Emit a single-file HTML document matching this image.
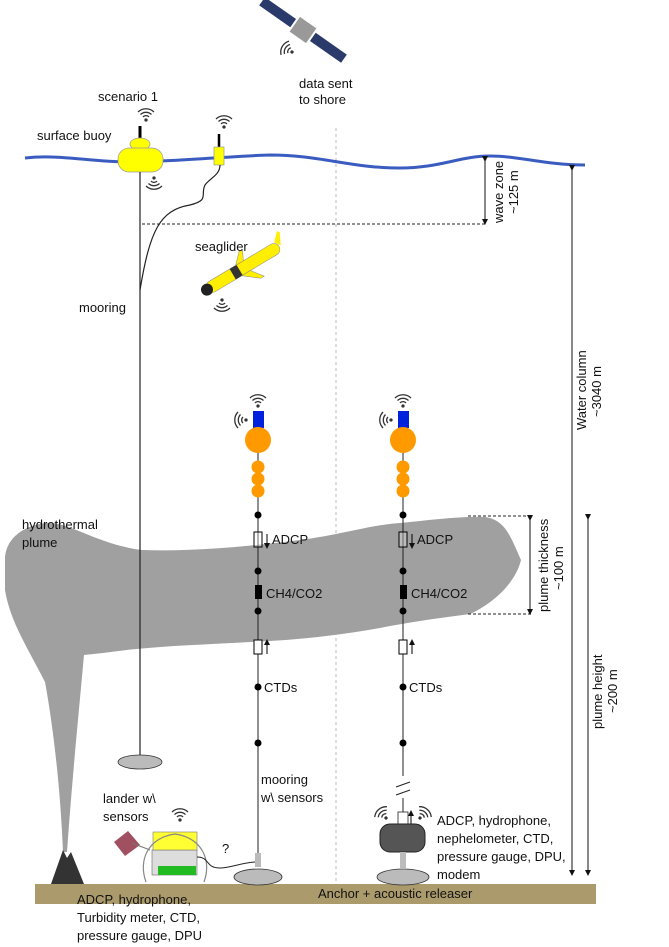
<!DOCTYPE html>
<html><head><meta charset="utf-8"><style>
html,body{margin:0;padding:0;background:#fff}
svg{display:block}
text{font-family:"Liberation Sans",sans-serif;font-size:13px;fill:#111}
</style></head><body>
<svg width="669" height="947" viewBox="0 0 669 947" xmlns="http://www.w3.org/2000/svg">
<defs>
<marker id="ah" markerWidth="6" markerHeight="6" refX="3" refY="3" orient="auto"><path d="M0,0 L6,3 L0,6 z" fill="#111"/></marker>
<g id="wifi" fill="none" stroke="#333" stroke-width="1.3"><path d="M-3,-3 A4,4 0 0 1 3,-3"/><path d="M-5.5,-5.5 A8,8 0 0 1 5.5,-5.5"/><path d="M-8,-8 A11.5,11.5 0 0 1 8,-8"/><circle cx="0" cy="0" r="1" fill="#333"/></g>
</defs>
<line x1="336" y1="128" x2="336" y2="884" stroke="#bbb" stroke-dasharray="3,3"/>
<g transform="translate(303,30) rotate(35)">
<rect x="-50" y="-5" width="38" height="10" fill="#2a3a6a"/>
<rect x="12" y="-5" width="38" height="10" fill="#2a3a6a"/>
<rect x="-10" y="-9" width="20" height="18" fill="#999"/>
</g>
<use href="#wifi" transform="translate(292,52) rotate(-60)"/>
<text x="299" y="88">data sent</text><text x="299" y="104">to shore</text>
<path d="M5,560 C5,535 30,523 50,523 C70,523 100,545 142,550 C200,552 260,545 300,540 C340,535 370,525 400,523 C430,520 460,516 485,517 C505,520 510,535 521,560 C515,585 490,605 470,614 C440,618 410,622 380,628 C340,635 300,640 250,642 C200,645 150,646 103,653 L84,655 C80,700 72,780 67,852 L63,852 C60,780 52,720 45,682 C30,652 10,622 5,590 Z" fill="#a0a0a0"/>
<text x="22" y="529">hydrothermal</text><text x="22" y="547">plume</text>
<rect x="35" y="884" width="561" height="20" fill="#ab9b6c"/>
<text x="318" y="898">Anchor + acoustic releaser</text>
<path d="M51,884 L63,850 L67,858 L71,852 L84,884 Z" fill="#333"/>
<path d="M25,158 C60,154 90,162 130,162 C170,162 230,156 270,155 C320,155 350,168 400,168 C440,168 460,156 490,156 C520,156 545,165 585,165" fill="none" stroke="#3a5cc0" stroke-width="3"/>
<line x1="140" y1="126" x2="140" y2="139" stroke="#000" stroke-width="3"/>
<ellipse cx="140" cy="144" rx="10" ry="6" fill="#ffff00" stroke="#999" stroke-width="0.7"/>
<rect x="118" y="148" width="45" height="24" rx="11" fill="#ffff00" stroke="#999" stroke-width="0.7"/>
<use href="#wifi" transform="translate(146,120)"/>
<use href="#wifi" transform="translate(154,178) rotate(180)"/>
<text x="98" y="101">scenario 1</text>
<text x="37" y="140">surface buoy</text>
<line x1="219" y1="134" x2="219" y2="147" stroke="#000" stroke-width="2.5"/>
<rect x="214" y="147" width="10" height="18" fill="#ffff00" stroke="#999" stroke-width="0.7"/>
<use href="#wifi" transform="translate(224,127)"/>
<path d="M220,165 C220,175 210,178 205,185 C200,195 210,200 190,205 C160,210 150,230 140,290" fill="none" stroke="#222" stroke-width="1.2"/>
<line x1="140" y1="172" x2="140" y2="756" stroke="#222" stroke-width="1.2"/>
<ellipse cx="140" cy="762" rx="22" ry="7" fill="#bbb" stroke="#333" stroke-width="0.8"/>
<text x="79" y="312">mooring</text>
<line x1="142" y1="224" x2="485" y2="224" stroke="#222" stroke-dasharray="3,2"/>
<g transform="translate(243,268) rotate(-31)">
<rect x="-42" y="-6" width="84" height="12" rx="6" fill="#ffee00" stroke="#888" stroke-width="0.5"/>
<ellipse cx="-42" cy="0" rx="6" ry="6" fill="#222"/>
<rect x="-12" y="-6" width="8" height="12" fill="#333"/>
<path d="M-5,6 L10,18 L14,18 L5,6 Z M-5,-6 L5,-16 L9,-16 L4,-6Z" fill="#ffee00" stroke="#888" stroke-width="0.5"/>
<path d="M40,-6 L48,-14 L50,-12 L44,0 Z" fill="#ffee00"/>
</g>
<use href="#wifi" transform="translate(222,300) rotate(180)"/>
<text x="195" y="251">seaglider</text>
<line x1="485" y1="159" x2="485" y2="222" stroke="#111" marker-start="url(#ah)" marker-end="url(#ah)"/>
<text transform="translate(503,223) rotate(-90)">wave zone</text>
<text transform="translate(518,214) rotate(-90)">~125 m</text>
<line x1="572" y1="168" x2="572" y2="873" stroke="#111" marker-start="url(#ah)" marker-end="url(#ah)"/>
<text transform="translate(586,430) rotate(-90)">Water column</text>
<text transform="translate(601,417) rotate(-90)">~3040 m</text>
<line x1="588" y1="517" x2="588" y2="873" stroke="#111" marker-start="url(#ah)" marker-end="url(#ah)"/>
<text transform="translate(602,729) rotate(-90)">plume height</text>
<text transform="translate(617,713) rotate(-90)">~200 m</text>
<line x1="468" y1="516" x2="532" y2="516" stroke="#222" stroke-dasharray="3,2"/>
<line x1="468" y1="614" x2="532" y2="614" stroke="#222" stroke-dasharray="3,2"/>
<line x1="530" y1="518" x2="530" y2="612" stroke="#111" marker-start="url(#ah)" marker-end="url(#ah)"/>
<text transform="translate(548,612) rotate(-90)">plume thickness</text>
<text transform="translate(563,590) rotate(-90)">~100 m</text>
<g id="m1">
<line x1="258" y1="425" x2="258" y2="860" stroke="#222" stroke-width="1"/>
<use href="#wifi" transform="translate(258,406)"/>
<use href="#wifi" transform="translate(246,420) rotate(-90)"/>
<rect x="253" y="411" width="11" height="17" fill="#0022dd"/>
<ellipse cx="258" cy="440" rx="13" ry="13" fill="#ff9900"/>
<circle cx="258" cy="467" r="6.5" fill="#ff9900"/><circle cx="258" cy="479" r="6.5" fill="#ff9900"/><circle cx="258" cy="491" r="6.5" fill="#ff9900"/>
<circle cx="258" cy="515" r="3.5" fill="#000"/>
<rect x="254" y="532" width="8" height="15" fill="#fff" fill-opacity="0.3" stroke="#000"/>
<line x1="267" y1="534" x2="267" y2="546" stroke="#000" marker-end="url(#ah)"/>
<text x="272" y="544">ADCP</text>
<circle cx="258" cy="571" r="3.5" fill="#000"/>
<rect x="255" y="585" width="7" height="14" fill="#000"/>
<text x="266" y="598">CH4/CO2</text>
<circle cx="258" cy="611" r="3.5" fill="#000"/>
<rect x="254" y="640" width="8" height="14" fill="#fff" stroke="#000"/>
<line x1="267" y1="654" x2="267" y2="642" stroke="#000" marker-end="url(#ah)"/>
<circle cx="258" cy="687" r="3.5" fill="#000"/>
<text x="264" y="692">CTDs</text>
<circle cx="258" cy="743" r="3.5" fill="#000"/>
</g>
<use href="#m1" transform="translate(145,0)"/>
<text x="261" y="784">mooring</text><text x="261" y="802">w\ sensors</text>
<rect x="255" y="853" width="6" height="14" fill="#bbb"/>
<ellipse cx="258" cy="877" rx="24" ry="8" fill="#bbb" stroke="#333" stroke-width="0.8"/>
<rect x="395" y="776" width="16" height="22" fill="#fff"/>
<line x1="396" y1="787" x2="410" y2="782" stroke="#222"/><line x1="396" y1="795" x2="410" y2="790" stroke="#222"/>
<rect x="398" y="812" width="10" height="13" fill="#fff" stroke="#222" stroke-width="0.8"/>
<line x1="411" y1="825" x2="411" y2="813" stroke="#000" marker-end="url(#ah)"/>
<rect x="380" y="824" width="45" height="28" rx="10" fill="#555" stroke="#222"/>
<rect x="400" y="852" width="6" height="16" fill="#bbb"/>
<ellipse cx="403" cy="877" rx="26" ry="8" fill="#bbb" stroke="#333" stroke-width="0.8"/>
<use href="#wifi" transform="translate(386,818) rotate(-40)"/>
<use href="#wifi" transform="translate(420,818) rotate(40)"/>
<text x="437" y="825">ADCP, hydrophone,</text>
<text x="437" y="843">nephelometer, CTD,</text>
<text x="437" y="861">pressure gauge, DPU,</text>
<text x="437" y="879">modem</text>
<text x="103" y="803">lander w\</text><text x="103" y="821">sensors</text>
<use href="#wifi" transform="translate(180,820)"/>
<path d="M114,842 L128,831 L140,845 L125,856 Z" fill="#a05060"/>
<line x1="132" y1="843" x2="150" y2="850" stroke="#777"/>
<rect x="152" y="850" width="45" height="25" fill="#ddd" stroke="#666" stroke-width="0.6"/>
<rect x="153" y="832" width="44" height="18" fill="#ffff33" stroke="#777" stroke-width="0.6"/>
<rect x="158" y="866" width="38" height="9" fill="#22bb22"/>
<path d="M146,882 C138,860 148,838 175,834 C202,838 212,860 204,882" fill="none" stroke="#888" stroke-width="1.2"/>
<path d="M197,857 C210,857 205,868 220,868 C230,868 240,863 255,862" fill="none" stroke="#222"/>
<text x="222" y="853">?</text>
<text x="77" y="904">ADCP, hydrophone,</text>
<text x="77" y="922">Turbidity meter, CTD,</text>
<text x="77" y="940">pressure gauge, DPU</text>
</svg>
</body></html>
